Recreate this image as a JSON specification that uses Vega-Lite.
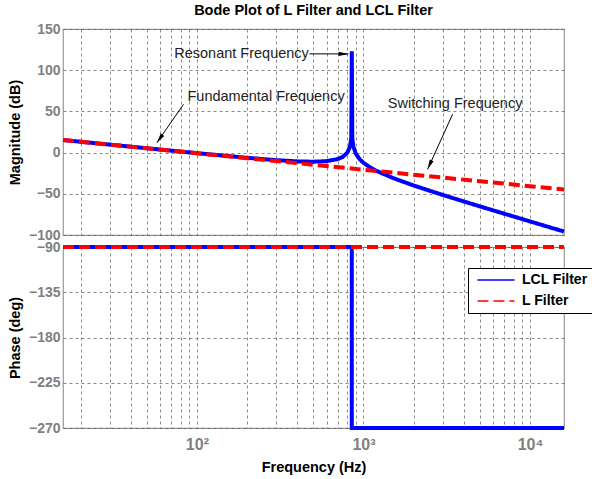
{
  "$schema": "https://vega.github.io/schema/vega-lite/v6.json",
  "padding": {"left": 6, "top": 1, "right": 0, "bottom": 0},
  "background": "#ffffff",
  "bounds": "flush",
  "config": {
    "font": "Liberation Sans",
    "view": {"stroke": "#999999", "strokeWidth": 1.2},
    "axis": {
      "gridDash": [3, 3], "gridColor": "#555555", "gridOpacity": 0.85, "gridWidth": 0.8,
      "domain": false, "ticks": false,
      "labelFont": "Liberation Sans", "labelFontSize": 14, "labelFontWeight": "bold", "labelColor": "#808080",
      "labelPadding": 3, "labelOverlap": false, "labelFlush": false,
      "titleFont": "Liberation Sans", "titleFontSize": 14.5, "titleFontWeight": "bold", "titleColor": "#000000"
    }
  },
  "datasets": {
    "mag": [
      {"f": 15.7, "db": 15.3, "series": "LCL Filter"},
      {"f": 20, "db": 13.2, "series": "LCL Filter"},
      {"f": 50, "db": 5.27, "series": "LCL Filter"},
      {"f": 100, "db": -0.66, "series": "LCL Filter"},
      {"f": 200, "db": -6.31, "series": "LCL Filter"},
      {"f": 300, "db": -9.17, "series": "LCL Filter"},
      {"f": 400, "db": -10.65, "series": "LCL Filter"},
      {"f": 500, "db": -11.08, "series": "LCL Filter"},
      {"f": 600, "db": -10.37, "series": "LCL Filter"},
      {"f": 700, "db": -7.87, "series": "LCL Filter"},
      {"f": 750, "db": -5.26, "series": "LCL Filter"},
      {"f": 800, "db": -0.15, "series": "LCL Filter"},
      {"f": 830, "db": 7.07, "series": "LCL Filter"},
      {"f": 845, "db": 17.74, "series": "LCL Filter"},
      {"f": 851, "db": 123, "series": "LCL Filter"},
      {"f": 857, "db": 17.55, "series": "LCL Filter"},
      {"f": 870, "db": 7.33, "series": "LCL Filter"},
      {"f": 900, "db": -1.33, "series": "LCL Filter"},
      {"f": 950, "db": -8.16, "series": "LCL Filter"},
      {"f": 1000, "db": -12.39, "series": "LCL Filter"},
      {"f": 1100, "db": -18.08, "series": "LCL Filter"},
      {"f": 1200, "db": -22.26, "series": "LCL Filter"},
      {"f": 1500, "db": -30.77, "series": "LCL Filter"},
      {"f": 2000, "db": -39.91, "series": "LCL Filter"},
      {"f": 3000, "db": -51.48, "series": "LCL Filter"},
      {"f": 5000, "db": -65.27, "series": "LCL Filter"},
      {"f": 10000, "db": -83.52, "series": "LCL Filter"},
      {"f": 16000, "db": -95.8, "series": "LCL Filter"},
      {"f": 15.7, "db": 15.3, "series": "L Filter"},
      {"f": 50, "db": 5.24, "series": "L Filter"},
      {"f": 100, "db": -0.78, "series": "L Filter"},
      {"f": 300, "db": -10.32, "series": "L Filter"},
      {"f": 1000, "db": -20.78, "series": "L Filter"},
      {"f": 3000, "db": -30.32, "series": "L Filter"},
      {"f": 5000, "db": -34.76, "series": "L Filter"},
      {"f": 10000, "db": -40.78, "series": "L Filter"},
      {"f": 16000, "db": -44.86, "series": "L Filter"}
    ],
    "phase": [
      {"f": 15.7, "deg": -90, "series": "LCL Filter", "i": 1},
      {"f": 851, "deg": -90, "series": "LCL Filter", "i": 2},
      {"f": 851, "deg": -270, "series": "LCL Filter", "i": 3},
      {"f": 16000, "deg": -270, "series": "LCL Filter", "i": 4},
      {"f": 15.7, "deg": -90, "series": "L Filter", "i": 1},
      {"f": 16000, "deg": -90, "series": "L Filter", "i": 2}
    ],
    "notes": [
      {"f": 73.1, "db": 119.8, "label": "Resonant Frequency"},
      {"f": 87.8, "db": 67.7, "label": "Fundamental Frequency"},
      {"f": 1400, "db": 58.5, "label": "Switching Frequency"}
    ],
    "arrows": [
      {"f": 473.5, "db": 119.8, "f2": 812.5, "db2": 119.8, "label": "Resonant"},
      {"f": 83.1, "db": 58.6, "f2": 57.5, "db2": 12.0, "label": "Fundamental"},
      {"f": 3429, "db": 46.5, "f2": 2427, "db2": -20.3, "label": "Switching"}
    ]
  },
  "spacing": 12,
  "resolve": {"legend": {"color": "independent", "strokeDash": "independent"}},
  "vconcat": [
    {
      "width": 501,
      "height": 206,
      "title": {"text": "Bode Plot of L Filter and LCL Filter", "fontSize": 14.5, "fontWeight": "bold", "color": "#000000", "offset": 4, "font": "Liberation Sans"},
      "layer": [
        {
          "data": {"name": "mag"},
          "transform": [{"filter": "datum.series == 'LCL Filter'"}],
          "mark": {"type": "line", "strokeWidth": 4, "clip": false},
          "encoding": {
            "x": {"field": "f", "type": "quantitative",
              "scale": {"type": "log", "domain": [15.7, 16000], "nice": false},
              "axis": {"values": [20,30,40,50,60,70,80,90,100,200,300,400,500,600,700,800,900,1000,2000,3000,4000,5000,6000,7000,8000,9000,10000], "labels": false, "title": null, "grid": true, "minExtent": 0, "maxExtent": 0}},
            "y": {"field": "db", "type": "quantitative",
              "scale": {"domain": [-100, 150], "nice": false, "zero": false},
              "axis": {"values": [-100,-50,0,50,100,150], "title": "Magnitude (dB)", "titlePadding": 6, "grid": true}},
            "color": {"field": "series", "type": "nominal", "scale": {"domain": ["LCL Filter", "L Filter"], "range": ["#0000ff", "#ff0000"]}, "legend": null},
            "strokeDash": {"field": "series", "type": "nominal", "scale": {"domain": ["LCL Filter", "L Filter"], "range": [[1, 0], [11, 5]]}, "legend": null}
          }
        },
        {
          "data": {"name": "mag"},
          "transform": [{"filter": "datum.series == 'L Filter'"}],
          "mark": {"type": "line", "strokeWidth": 4, "clip": false},
          "encoding": {
            "x": {"field": "f", "type": "quantitative"},
            "y": {"field": "db", "type": "quantitative"},
            "color": {"field": "series", "type": "nominal", "legend": null},
            "strokeDash": {"field": "series", "type": "nominal", "legend": null}
          }
        },
        {
          "data": {"name": "notes"},
          "mark": {"type": "text", "align": "left", "baseline": "middle", "fontSize": 14.5, "color": "#222222", "font": "Liberation Sans"},
          "encoding": {
            "x": {"field": "f", "type": "quantitative"},
            "y": {"field": "db", "type": "quantitative"},
            "text": {"field": "label"}
          }
        },
        {
          "data": {"name": "arrows"},
          "mark": {"type": "rule", "color": "#000000", "strokeWidth": 1},
          "encoding": {
            "x": {"field": "f", "type": "quantitative"},
            "y": {"field": "db", "type": "quantitative"},
            "x2": {"field": "f2"},
            "y2": {"field": "db2"}
          }
        },
        {
          "data": {"name": "arrows"},
          "transform": [{"filter": "datum.label == 'Resonant'"}],
          "mark": {"type": "point", "shape": "M0,0L0.35,1.6L-0.35,1.6Z", "filled": true, "color": "#000000", "size": 150, "angle": 90, "opacity": 1},
          "encoding": {"x": {"field": "f2", "type": "quantitative"}, "y": {"field": "db2", "type": "quantitative"}}
        },
        {
          "data": {"name": "arrows"},
          "transform": [{"filter": "datum.label == 'Fundamental'"}],
          "mark": {"type": "point", "shape": "M0,0L0.35,1.6L-0.35,1.6Z", "filled": true, "color": "#000000", "size": 150, "angle": 214.8, "opacity": 1},
          "encoding": {"x": {"field": "f2", "type": "quantitative"}, "y": {"field": "db2", "type": "quantitative"}}
        },
        {
          "data": {"name": "arrows"},
          "transform": [{"filter": "datum.label == 'Switching'"}],
          "mark": {"type": "point", "shape": "M0,0L0.35,1.6L-0.35,1.6Z", "filled": true, "color": "#000000", "size": 150, "angle": 204.5, "opacity": 1},
          "encoding": {"x": {"field": "f2", "type": "quantitative"}, "y": {"field": "db2", "type": "quantitative"}}
        }
      ]
    },
    {
      "width": 501,
      "height": 181,
      "data": {"name": "phase"},
      "encoding": {
        "x": {"field": "f", "type": "quantitative",
          "scale": {"type": "log", "domain": [15.7, 16000], "nice": false},
          "axis": {"values": [20,30,40,50,60,70,80,90,100,200,300,400,500,600,700,800,900,1000,2000,3000,4000,5000,6000,7000,8000,9000,10000],
            "labelExpr": "datum.value == 100 ? '10²' : datum.value == 1000 ? '10³' : datum.value == 10000 ? '10⁴' : ''",
            "labelFontSize": 16, "labelPadding": 8, "title": "Frequency  (Hz)", "titlePadding": 8, "grid": true}},
        "y": {"field": "deg", "type": "quantitative",
          "scale": {"domain": [-270, -90], "nice": false, "zero": false},
          "axis": {"values": [-270,-225,-180,-135,-90], "title": "Phase (deg)", "titlePadding": 6, "grid": true}},
        "order": {"field": "i", "type": "quantitative"},
        "color": {"field": "series", "type": "nominal", "scale": {"domain": ["LCL Filter", "L Filter"], "range": ["#0000ff", "#ff0000"]},
          "legend": {"orient": "none", "legendX": 405, "legendY": 21, "title": null, "symbolType": "M-0.5,0H6.9", "symbolSize": 100, "symbolStrokeWidth": 1.5,
            "labelFontSize": 14, "labelFontWeight": "bold", "labelColor": "#000000", "labelFont": "Liberation Sans", "labelOffset": 35,
            "strokeColor": "#000000", "fillColor": "#ffffff", "padding": 5, "rowPadding": 7}},
        "strokeDash": {"field": "series", "type": "nominal", "scale": {"domain": ["LCL Filter", "L Filter"], "range": [[1, 0], [8, 5]]},
          "legend": {"orient": "none", "legendX": 405, "legendY": 21, "title": null, "symbolType": "M-0.5,0H6.9", "symbolSize": 100, "symbolStrokeWidth": 1.5,
            "labelFontSize": 14, "labelFontWeight": "bold", "labelColor": "#000000", "labelFont": "Liberation Sans", "labelOffset": 35,
            "strokeColor": "#000000", "fillColor": "#ffffff", "padding": 5, "rowPadding": 7}}
      },
      "layer": [
        {"transform": [{"filter": "datum.series == 'LCL Filter'"}], "mark": {"type": "line", "strokeWidth": 4, "clip": false}},
        {"transform": [{"filter": "datum.series == 'L Filter'"}], "mark": {"type": "line", "strokeWidth": 4, "clip": false}}
      ]
    }
  ]
}
